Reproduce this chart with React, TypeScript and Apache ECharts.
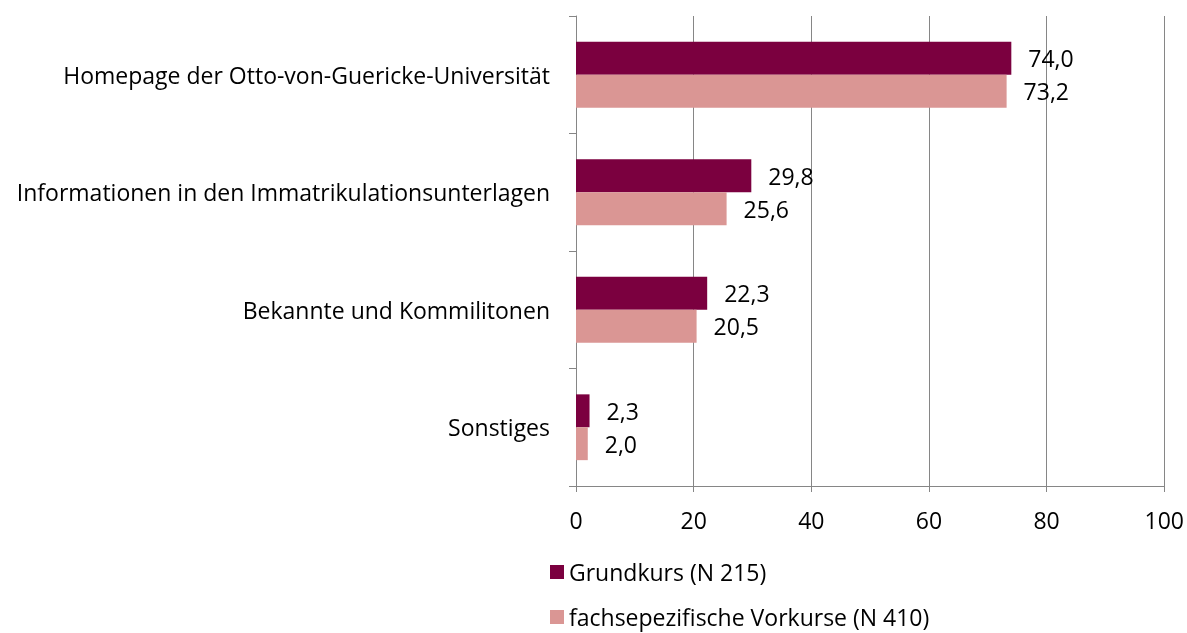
import React, { useEffect, useRef } from "react";
import * as echarts from "echarts";

const categories = [
  "Homepage der Otto-von-Guericke-Universität",
  "Informationen in den Immatrikulationsunterlagen",
  "Bekannte und Kommilitonen",
  "Sonstiges",
];
const seriesNames = ["Grundkurs (N 215)", "fachsepezifische Vorkurse (N 410)"];
const grundkurs = [74.0, 29.8, 22.3, 2.3];
const vorkurse = [73.2, 25.6, 20.5, 2.0];
const xTicks = [0, 20, 40, 60, 80, 100];

const FONT = "Open Sans";
const FS = 23;
const AXIS = "#868686";

export default function App() {
  const ref = useRef<HTMLDivElement>(null);
  useEffect(() => {
    if (!ref.current) return;
    const chart = echarts.init(ref.current, undefined, { renderer: "svg" });
    const label = {
      show: true,
      position: "right" as const,
      distance: 17,
      color: "#000",
      fontFamily: FONT,
      fontSize: FS,
      formatter: (p: any) => Number(p.value).toFixed(1).replace(".", ","),
    };
    chart.setOption({
      animation: false,
      textStyle: { fontFamily: FONT },
      grid: { left: 576, right: 21, top: 16, bottom: 147, containLabel: false },
      legend: {
        orient: "vertical",
        left: 550,
        top: 560,
        padding: 0,
        itemWidth: 14,
        itemHeight: 14,
        itemGap: 21,
        icon: "rect",
        textStyle: { fontFamily: FONT, fontSize: FS, lineHeight: 24, color: "#000" },
        data: seriesNames,
      },
      xAxis: {
        type: "value",
        min: xTicks[0],
        max: xTicks[xTicks.length - 1],
        interval: 20,
        axisLine: { show: true, lineStyle: { color: AXIS, width: 1 } },
        axisTick: { show: true, length: 6, lineStyle: { color: AXIS } },
        axisLabel: { color: "#000", fontSize: FS, fontFamily: FONT, margin: 22 },
        splitLine: { show: true, lineStyle: { color: AXIS, width: 1 } },
      },
      yAxis: {
        type: "category",
        inverse: true,
        data: categories,
        axisLine: { show: true, lineStyle: { color: AXIS, width: 1 } },
        axisTick: { show: true, length: 7, alignWithLabel: false, lineStyle: { color: AXIS } },
        axisLabel: { color: "#000", fontSize: FS, fontFamily: FONT, margin: 26 },
      },
      series: [
        {
          name: seriesNames[0],
          type: "bar",
          data: grundkurs,
          itemStyle: { color: "#7B003F" },
          barGap: "0%",
          barCategoryGap: "44%",
          label,
        },
        {
          name: seriesNames[1],
          type: "bar",
          data: vorkurse,
          itemStyle: { color: "#DA9694" },
          barGap: "0%",
          barCategoryGap: "44%",
          label,
        },
      ],
    });
    return () => chart.dispose();
  }, []);
  return (
    <div
      ref={ref}
      style={{ position: "fixed", left: 0, top: 0, width: 1187, height: 633 }}
    />
  );
}
